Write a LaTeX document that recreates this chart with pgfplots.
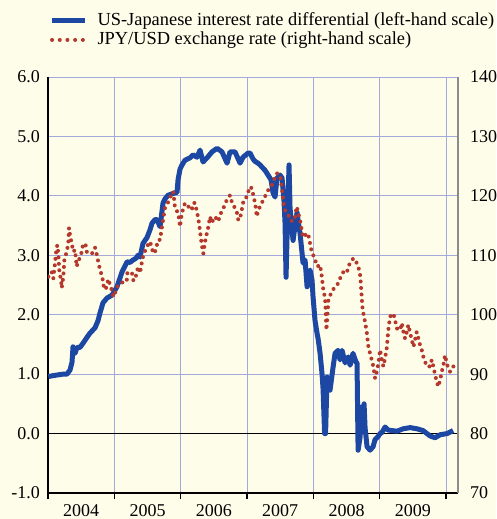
\documentclass[border=0pt]{standalone}
\usepackage{fontspec}
\setmainfont{Liberation Serif}
\usepackage{pgfplots}
\pgfplotsset{compat=1.18}
\definecolor{bgc}{HTML}{FEFDE9}
\definecolor{gridc}{HTML}{A3AADB}
\definecolor{blueline}{HTML}{1C47A2}
\definecolor{reddot}{HTML}{B5382C}
\definecolor{raxis}{HTML}{8C8C8C}
\begin{document}
\fontsize{18}{21}\selectfont
\begin{tikzpicture}
\fill[bgc] (-48pt,-26pt) rectangle (448pt,493pt);
\useasboundingbox (-48pt,-26pt) rectangle (448pt,493pt);
\begin{axis}[
  at={(0pt,0pt)}, anchor=south west,
  scale only axis, width=410pt, height=416pt,
  xmin=2004, xmax=2010.18, ymin=-1, ymax=6,
  axis x line*=bottom, axis y line*=left,
  x axis line style={-, black, line width=1.6pt},
  y axis line style={-, black, line width=1.3pt},
  xtick={2004,2005,2006,2007,2008,2009,2010},
  x tick label as interval,
  xticklabel style={/pgf/number format/1000 sep={}, yshift=1pt},
  ytick={-1,0,1,2,3,4,5,6},
  yticklabel style={/pgf/number format/.cd, fixed, fixed zerofill, precision=1, /tikz/.cd, xshift=4pt},
  /pgf/number format/assume math mode=true,
  tick label style={font=\fontsize{18}{21}\selectfont},
  tick align=outside,
  major tick length=6pt,
  x tick style={black, line width=1.5pt},
  y tick style={draw=none},
  grid=major,
  major grid style={gridc, line width=0.9pt},
  extra y ticks={0}, extra y tick labels={},
  extra y tick style={grid=major, major grid style={black, line width=1.1pt}, tick style={draw=none}},
  legend style={at={(-0.004,1.165)}, anchor=north west, draw=none, fill=none,
    font=\fontsize{18.4}{21}\selectfont, cells={anchor=west}, row sep=0pt,
    /tikz/every odd column/.append style={column sep=8pt}},
  legend image code/.code={\draw[#1] (0pt,0pt) -- (33pt,0pt);},
]
\addplot[blueline, line width=5pt, line join=round] coordinates {
(2004.005,0.96) (2004.106,0.98) (2004.226,1.00) (2004.286,1.00) (2004.332,1.07)
(2004.362,1.20) (2004.377,1.46) (2004.407,1.35) (2004.437,1.45) (2004.482,1.45)
(2004.528,1.52) (2004.588,1.62) (2004.633,1.69) (2004.709,1.78) (2004.754,1.90)
(2004.784,2.03) (2004.829,2.20) (2004.889,2.28) (2004.965,2.33) (2005.040,2.47)
(2005.116,2.72) (2005.161,2.82) (2005.191,2.89) (2005.236,2.88) (2005.281,2.92)
(2005.327,2.95) (2005.357,3.00) (2005.387,2.97) (2005.432,3.20) (2005.493,3.30)
(2005.538,3.43) (2005.568,3.54) (2005.613,3.60) (2005.643,3.60) (2005.689,3.48)
(2005.734,3.88) (2005.764,3.95) (2005.809,4.01) (2005.885,4.04) (2005.945,4.06)
(2005.960,4.27) (2005.990,4.45) (2006.020,4.52) (2006.065,4.60) (2006.141,4.64)
(2006.186,4.69) (2006.246,4.65) (2006.292,4.77) (2006.337,4.57) (2006.397,4.64)
(2006.472,4.74) (2006.548,4.80) (2006.623,4.74) (2006.699,4.55) (2006.744,4.74)
(2006.819,4.74) (2006.895,4.55) (2006.940,4.65) (2007.015,4.72) (2007.045,4.72)
(2007.091,4.62) (2007.121,4.58) (2007.166,4.55) (2007.196,4.52) (2007.271,4.43)
(2007.317,4.35) (2007.362,4.27) (2007.392,4.05) (2007.422,3.98) (2007.452,4.30)
(2007.498,4.35) (2007.528,4.30) (2007.558,3.90) (2007.573,3.54) (2007.588,2.63)
(2007.603,3.30) (2007.618,3.90) (2007.633,4.52) (2007.648,3.80) (2007.679,3.42)
(2007.694,3.25) (2007.724,3.50) (2007.754,3.72) (2007.769,3.59) (2007.799,3.37)
(2007.829,3.04) (2007.844,2.87) (2007.875,2.92) (2007.905,2.47) (2007.920,2.70)
(2007.950,2.75) (2007.980,2.58) (2007.995,2.30) (2008.025,1.90) (2008.055,1.69)
(2008.071,1.60) (2008.101,1.35) (2008.131,1.00) (2008.146,0.75) (2008.169,0.00)
(2008.184,0.00) (2008.206,0.95) (2008.251,0.73) (2008.297,1.12) (2008.327,1.35)
(2008.372,1.40) (2008.402,1.24) (2008.432,1.40) (2008.478,1.19) (2008.523,1.29)
(2008.553,1.15) (2008.598,1.35) (2008.643,1.20) (2008.658,1.19) (2008.674,-0.28)
(2008.704,-0.06) (2008.734,0.45) (2008.749,0.35) (2008.764,0.50) (2008.779,0.10)
(2008.809,-0.22) (2008.854,-0.28) (2008.900,-0.22) (2008.930,-0.10) (2008.975,-0.05)
(2009.005,0.00) (2009.035,0.02) (2009.081,0.11) (2009.126,0.06) (2009.186,0.05)
(2009.262,0.04) (2009.352,0.08) (2009.458,0.10) (2009.563,0.08) (2009.654,0.05)
(2009.759,-0.04) (2009.834,-0.07) (2009.910,-0.02) (2010.015,0.00) (2010.106,0.05)
};
\addlegendentry{US-Japanese interest rate differential (left-hand scale)}
\addlegendimage{reddot, line width=4pt, line cap=round, dash pattern=on 0pt off 7.7pt}
\addlegendentry{JPY/USD exchange rate (right-hand scale)}
\end{axis}
\begin{axis}[
  at={(0pt,0pt)}, anchor=south west,
  scale only axis, width=410pt, height=416pt,
  xmin=2004, xmax=2010.18, ymin=70, ymax=140,
  axis x line=none, axis y line*=right,
  y axis line style={-, raxis, line width=1.3pt},
  ytick={70,80,90,100,110,120,130,140},
  y tick style={draw=none},
  yticklabel style={xshift=6pt},
  /pgf/number format/assume math mode=true,
  tick label style={font=\fontsize{18}{21}\selectfont},
]
\addplot[reddot, line width=4pt, line cap=round, line join=round, dash pattern=on 0pt off 6.5pt] coordinates {
(2004.005,106.4) (2004.030,107.0) (2004.056,107.2) (2004.080,106.1) (2004.106,108.7)
(2004.121,110.4) (2004.140,111.7) (2004.155,110.4) (2004.170,107.5) (2004.196,105.8)
(2004.207,104.5) (2004.231,106.4) (2004.246,109.2) (2004.282,110.6) (2004.306,112.0)
(2004.317,114.6) (2004.332,113.4) (2004.357,112.0) (2004.381,110.6) (2004.407,110.9)
(2004.433,108.1) (2004.457,109.2) (2004.482,109.5) (2004.508,110.6) (2004.532,112.0)
(2004.568,111.7) (2004.583,110.6) (2004.618,110.4) (2004.659,110.2) (2004.709,111.3)
(2004.734,110.2) (2004.758,108.9) (2004.784,107.5) (2004.819,106.4) (2004.834,105.0)
(2004.859,104.2) (2004.885,104.7) (2004.909,106.0) (2004.935,105.0) (2004.960,104.2)
(2004.984,103.0) (2005.010,103.6) (2005.036,104.7) (2005.085,105.0) (2005.135,105.6)
(2005.186,105.6) (2005.196,107.0) (2005.262,107.2) (2005.286,105.8) (2005.312,105.8)
(2005.337,107.2) (2005.361,108.1) (2005.387,107.0) (2005.413,108.7) (2005.437,110.0)
(2005.488,111.4) (2005.538,112.3) (2005.588,110.3) (2005.613,110.6) (2005.663,112.6)
(2005.689,112.6) (2005.714,114.5) (2005.764,118.0) (2005.814,119.0) (2005.865,120.5)
(2005.889,120.7) (2005.915,117.9) (2005.964,117.1) (2005.990,114.8) (2006.016,117.0)
(2006.065,118.8) (2006.115,118.2) (2006.166,117.6) (2006.191,118.8) (2006.216,118.8)
(2006.266,116.2) (2006.292,114.0) (2006.317,111.8) (2006.341,110.3) (2006.367,112.3)
(2006.417,114.8) (2006.442,116.5) (2006.468,115.5) (2006.518,116.5) (2006.567,115.7)
(2006.593,116.8) (2006.643,117.9) (2006.694,119.3) (2006.744,120.1) (2006.770,119.0)
(2006.819,117.9) (2006.845,117.3) (2006.869,115.9) (2006.895,116.2) (2006.920,117.6)
(2006.944,119.0) (2006.970,119.2) (2007.020,120.7) (2007.035,121.5) (2007.071,121.3)
(2007.121,118.8) (2007.136,117.6) (2007.146,116.5) (2007.170,117.6) (2007.222,118.8)
(2007.271,119.9) (2007.321,121.0) (2007.373,121.8) (2007.448,123.8) (2007.498,123.5)
(2007.523,121.5) (2007.538,120.1) (2007.547,119.0) (2007.573,117.6) (2007.623,116.8)
(2007.648,115.9) (2007.698,115.7) (2007.724,116.5) (2007.749,118.2) (2007.799,115.9)
(2007.825,114.3) (2007.844,113.0) (2007.875,113.4) (2007.920,113.7) (2007.950,112.0)
(2007.980,110.3) (2008.010,109.8) (2008.060,108.1) (2008.101,108.4) (2008.126,106.5)
(2008.150,104.2) (2008.176,102.8) (2008.187,100.2) (2008.196,97.4) (2008.206,98.8)
(2008.226,102.5) (2008.277,103.9) (2008.327,104.7) (2008.377,105.3) (2008.402,106.1)
(2008.452,107.2) (2008.503,107.0) (2008.527,108.1) (2008.553,108.7) (2008.603,109.5)
(2008.628,109.3) (2008.678,108.1) (2008.704,106.7) (2008.715,105.3) (2008.723,103.9)
(2008.738,101.4) (2008.754,100.2) (2008.779,98.8) (2008.805,97.0) (2008.829,94.6)
(2008.854,93.5) (2008.880,92.4) (2008.904,91.3) (2008.930,89.3) (2008.955,90.4)
(2008.980,91.8) (2009.005,94.1) (2009.031,92.4) (2009.055,91.3) (2009.081,92.7)
(2009.106,94.4) (2009.130,97.5) (2009.156,99.7) (2009.206,100.2) (2009.231,99.1)
(2009.257,97.7) (2009.307,97.4) (2009.332,98.6) (2009.357,97.1) (2009.382,96.0)
(2009.408,97.1) (2009.432,98.3) (2009.458,96.9) (2009.483,95.8) (2009.508,94.6)
(2009.533,95.8) (2009.558,97.1) (2009.583,96.0) (2009.608,94.9) (2009.633,94.1)
(2009.658,92.9) (2009.684,92.1) (2009.709,91.3) (2009.759,91.3) (2009.784,92.4)
(2009.809,91.3) (2009.834,89.9) (2009.860,88.7) (2009.884,87.9) (2009.910,89.0)
(2009.935,90.4) (2009.960,91.5) (2009.985,93.2) (2010.010,91.8) (2010.035,91.0)
(2010.061,90.4) (2010.086,91.0) (2010.111,91.3)
};
\end{axis}
\end{tikzpicture}
\end{document}
